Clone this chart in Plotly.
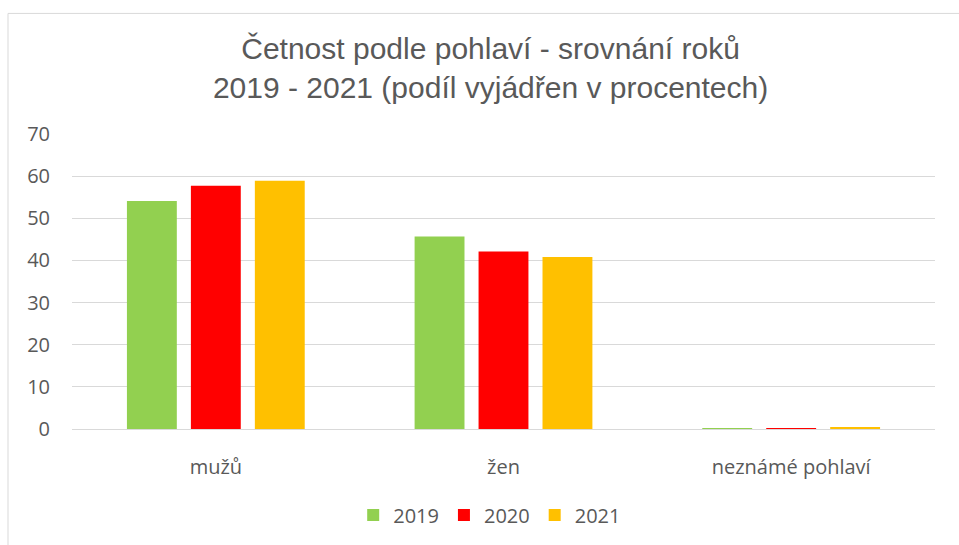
import plotly.graph_objects as go

categories = ["mužů", "žen", "neznámé pohlaví"]
years = ["2019", "2020", "2021"]
values_2019 = [54.1, 45.7, 0.2]
values_2020 = [57.7, 42.1, 0.2]
values_2021 = [58.9, 40.8, 0.3]
colors = ["#92D050", "#FF0000", "#FFC000"]
y_ticks = [0, 10, 20, 30, 40, 50, 60, 70]

series = [values_2019, values_2020, values_2021]

fig = go.Figure()
for name, vals, col in zip(years, series, colors):
    fig.add_trace(go.Bar(name=name, x=categories, y=vals, marker=dict(color=col, line=dict(width=0))))

title_font = "Liberation Sans, Arial, sans-serif"
axis_font = "Open Sans, sans-serif"
fig.update_layout(
    width=959, height=545,
    margin=dict(l=72, r=24, t=134, b=115),
    paper_bgcolor="white", plot_bgcolor="white",
    barmode="group", bargap=0.333, bargroupgap=0.22,
    font=dict(family=axis_font, color="#595959", size=20),
    title=dict(text="Četnost podle pohlaví - srovnání roků<br>2019 - 2021 (podíl vyjádřen v procentech)",
               x=0.485, xanchor="center", xref="paper", y=0.892, yanchor="middle",
               font=dict(size=30, color="#595959", family=title_font)),
    legend=dict(orientation="h", x=0.484, xanchor="center", y=-0.287, yanchor="middle",
                font=dict(size=20, color="#595959", family=axis_font), itemwidth=30, traceorder="normal"),
    showlegend=True,
)
fig.update_yaxes(range=[0, 70], tickvals=y_ticks, showgrid=True, gridcolor="#D9D9D9", gridwidth=1,
                 zeroline=False, showline=False, ticks="", ticklabelstandoff=21,
                 tickfont=dict(size=20, color="#595959", family=axis_font))
fig.update_xaxes(showline=True, linecolor="#D9D9D9", linewidth=1, ticks="", ticklabelstandoff=20,
                 tickfont=dict(size=20, color="#595959", family=axis_font))
fig.add_shape(type="rect", xref="paper", yref="paper",
              x0=(8 - 72) / 863, x1=(962 - 72) / 863, y0=-(548 - 430) / 296, y1=(430 - 13) / 296,
              line=dict(color="#D9D9D9", width=1), fillcolor="rgba(0,0,0,0)", layer="below")
fig.write_html("out.html", config={"displayModeBar": False},
               post_script="document.body.style.margin='0';document.body.style.overflow='hidden';")
